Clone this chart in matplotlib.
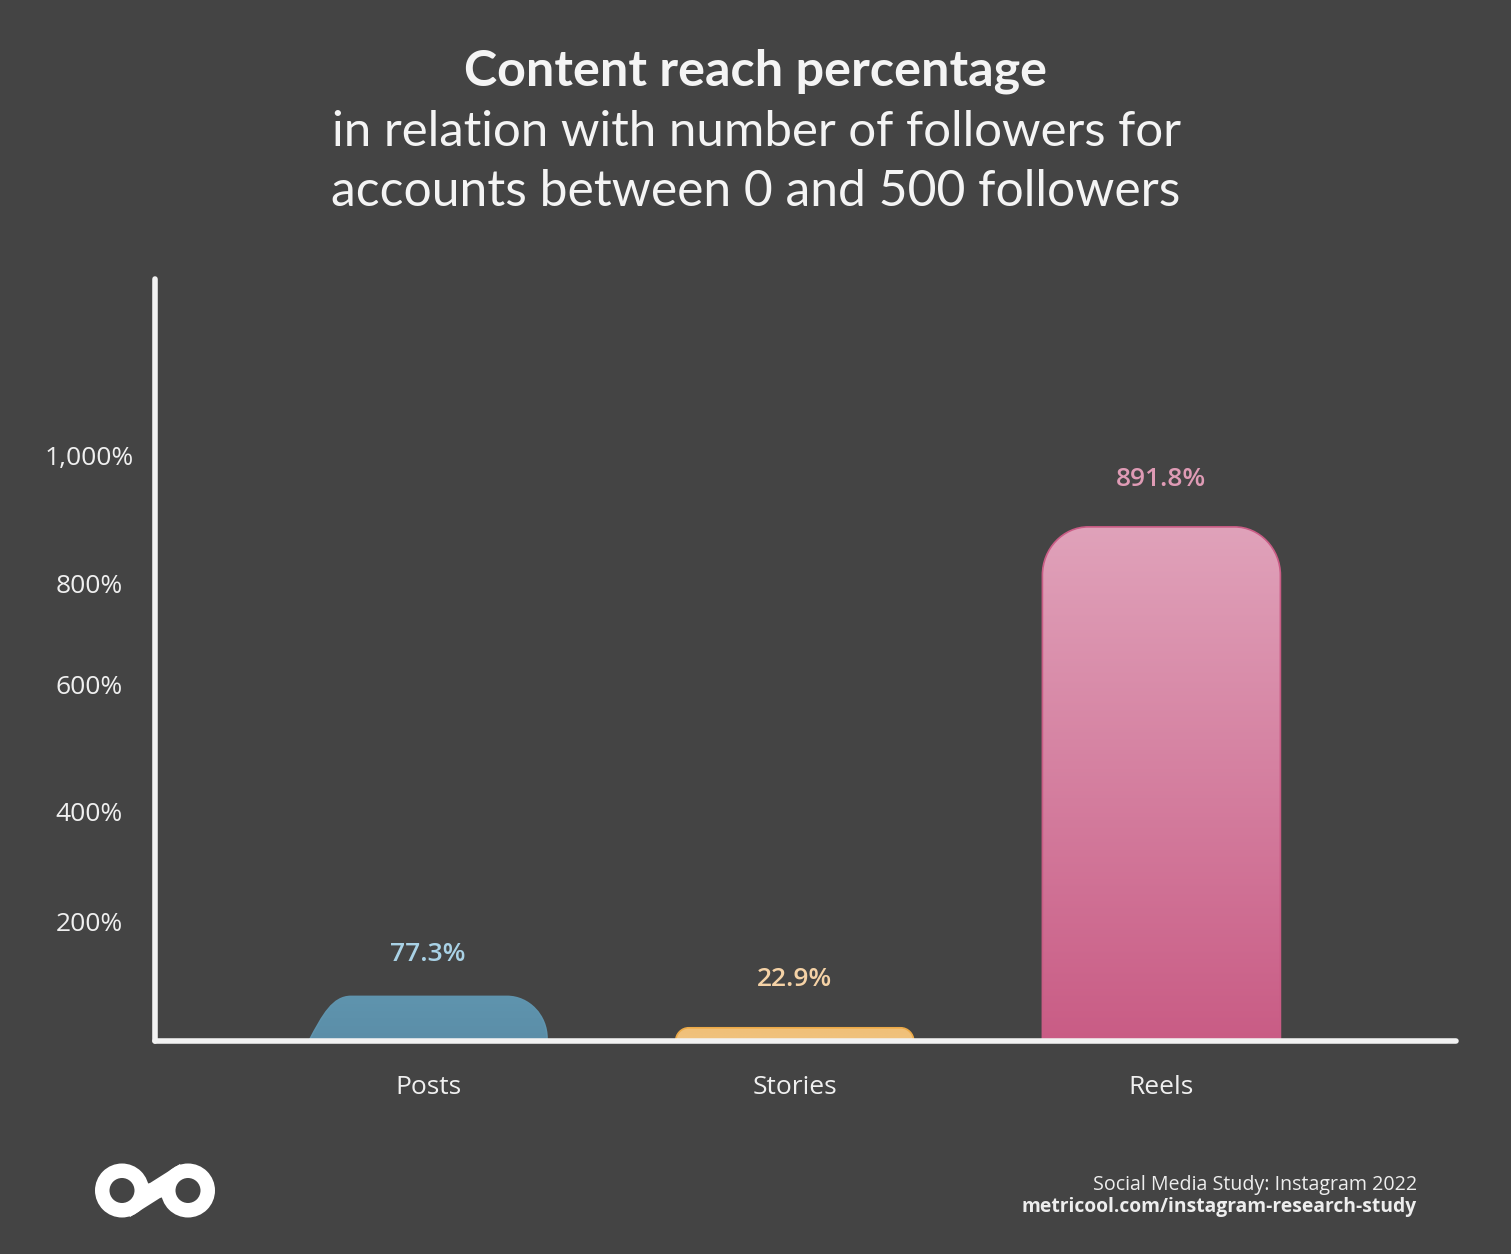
import numpy as np
import matplotlib
matplotlib.use("Agg")
import matplotlib.pyplot as plt
from matplotlib.path import Path
from matplotlib.patches import PathPatch, Circle, Polygon
from matplotlib.colors import LinearSegmentedColormap

categories = ["Posts", "Stories", "Reels"]
values = [77.3, 22.9, 891.8]
value_labels = ["77.3%", "22.9%", "891.8%"]
y_tick_labels = ["1,000%", "800%", "600%", "400%", "200%"]
# the reference's tick labels are not evenly spaced; these are their heights on the bar scale
y_tick_positions = [1015, 793, 619, 398, 208]

W, H = 1511, 1254
BG = "#444444"
AXC = "#f2f2f2"
FONT = ["Lato", "DejaVu Sans"]
SMALL = ["Open Sans", "DejaVu Sans"]
plt.rcParams["font.family"] = FONT

fig = plt.figure(figsize=(W / 100, H / 100), dpi=100, facecolor=BG)
L, R, T, B = 155, 1456, 279, 1041
ax = fig.add_axes([L / W, 1 - B / H, (R - L) / W, (B - T) / H], facecolor="none")

PX_Y = 0.5765          # pixels per data unit
PX_X = 366.7           # pixels per category
ax.set_xlim((L - 428) / PX_X, (R - 428) / PX_X)
ax.set_ylim(0, (B - T) / PX_Y)
BAR_W = 238 / PX_X

styles = [
    dict(top="#5f94ae", bot="#5b8ea8", edge="#5f94ae", r=40, lab="#a9d2e6", slant=True, off=30),
    dict(top="#f0c078", bot="#f0c27e", edge="#edaa48", r=13, lab="#f5d2a6", slant=False, off=34.5),
    dict(top="#e0a2ba", bot="#c95c85", edge="#c95c85", r=46, lab="#df9bb5", slant=False, off=34),
]


def bar_path(cx, v, r_px, slant):
    x0, x1 = cx - BAR_W / 2, cx + BAR_W / 2
    rx = r_px / PX_X
    ry = min(r_px * 1.05 / PX_Y, v)
    k = 0.55
    verts = [(x0, 0)]
    codes = [Path.MOVETO]
    if slant:
        verts += [(x0 + 0.35 * rx, 0.6 * v), (x0 + 0.6 * rx, v), (x0 + 1.05 * rx, v)]
        codes += [Path.CURVE4] * 3
    else:
        verts += [(x0, v - ry)]
        codes += [Path.LINETO]
        verts += [(x0, v - ry + k * ry), (x0 + rx - k * rx, v), (x0 + rx, v)]
        codes += [Path.CURVE4] * 3
    verts += [(x1 - rx, v)]
    codes += [Path.LINETO]
    verts += [(x1 - rx + k * rx, v), (x1, v - ry + k * ry), (x1, v - ry)]
    codes += [Path.CURVE4] * 3
    verts += [(x1, 0), (x0, 0)]
    codes += [Path.LINETO, Path.CLOSEPOLY]
    return Path(verts, codes)


xlim, ylim = ax.get_xlim(), ax.get_ylim()
grad = np.linspace(0, 1, 256).reshape(-1, 1)
for i, (v, s) in enumerate(zip(values, styles)):
    path = bar_path(i, v, s["r"], s["slant"])
    cmap = LinearSegmentedColormap.from_list("g", [s["top"], s["bot"]])
    im = ax.imshow(grad, cmap=cmap, aspect="auto", origin="upper", zorder=2,
                   extent=(i - BAR_W / 2, i + BAR_W / 2, 0, v))
    patch = PathPatch(path, facecolor="none", edgecolor=s["edge"], lw=1.2, zorder=2.1)
    ax.add_patch(patch)
    im.set_clip_path(patch)
    ax.annotate(value_labels[i], xy=(i, v), xytext=(0, s["off"]), textcoords="offset points",
                ha="center", va="center", fontsize=19, fontweight="semibold",
                family=SMALL, color=s["lab"])
ax.set_xlim(xlim)
ax.set_ylim(ylim)

ax.set_xticks(range(len(categories)), categories, family=SMALL)
ax.set_yticks(y_tick_positions, y_tick_labels, family=SMALL)
ax.tick_params(axis="both", length=0, colors="#f0f0f0", labelsize=19)
ax.tick_params(axis="y", pad=47.5)
ax.tick_params(axis="x", pad=24.5)
for lab in ax.get_yticklabels():
    lab.set_horizontalalignment("center")

for sp in ("top", "right"):
    ax.spines[sp].set_visible(False)
for sp in ("left", "bottom"):
    ax.spines[sp].set_color(AXC)
    ax.spines[sp].set_linewidth(4)
    ax.spines[sp].set_capstyle("round")

# overlay in pixel coordinates for the title, footer and logo
ov = fig.add_axes([0, 0, 1, 1], facecolor="none")
ov.set_xlim(0, W)
ov.set_ylim(H, 0)
ov.axis("off")

ov.text(756, 71, "Content reach percentage", ha="center", va="center",
        fontsize=36.2, fontweight="bold", color="#f4f4f4")
ov.text(756, 132, "in relation with number of followers for", ha="center", va="center",
        fontsize=35.4, color="#f4f4f4")
ov.text(756, 192, "accounts between 0 and 500 followers", ha="center", va="center",
        fontsize=35.8, color="#f4f4f4")

ov.text(1417, 1185, "Social Media Study: Instagram 2022", ha="right", va="center",
        fontsize=14.1, family=SMALL, color="#eeeeee")
ov.text(1417, 1207, "metricool.com/instagram-research-study", ha="right", va="center",
        fontsize=13.9, fontweight="bold", family=SMALL, color="#eeeeee")

# logo
white = "#ffffff"
ov.add_patch(Polygon([(150, 1183), (180, 1164), (188, 1190), (160, 1198), (130, 1217), (122, 1190)],
                     closed=True, facecolor=white, edgecolor="none"))
for cx in (122, 188):
    ov.add_patch(Circle((cx, 1190.5), 27, facecolor=white, edgecolor="none"))
    ov.add_patch(Circle((cx, 1190.5), 12.5, facecolor=BG, edgecolor="none", zorder=3))

fig.savefig("out.png", dpi=100, facecolor=BG)
